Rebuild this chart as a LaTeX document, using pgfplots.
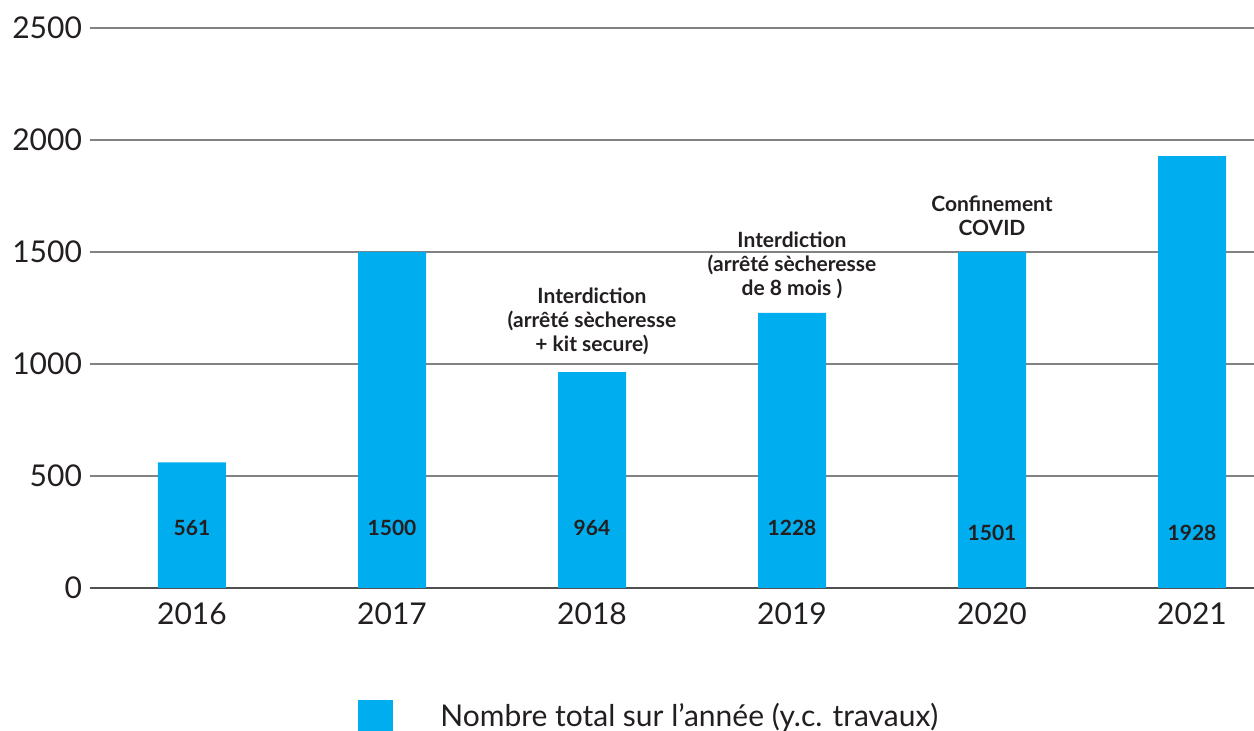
\documentclass[border=0pt]{standalone}
\usepackage{pgfplots}
\pgfplotsset{compat=1.18}
\usepackage{fontspec}
\setmainfont{Lato}
\definecolor{barblue}{RGB}{0,174,239}
\definecolor{gridgray}{RGB}{130,130,130}
\definecolor{axgray}{RGB}{80,80,80}
\definecolor{txt}{RGB}{35,31,32}
\begin{document}
\begin{tikzpicture}
\begin{axis}[
  scale only axis,
  width=582pt, height=280pt,
  xmin=-0.51, xmax=5.31,
  ymin=0, ymax=2500,
  ytick={0,500,1000,1500,2000,2500},
  xtick={0,1,2,3,4,5},
  xticklabels={2016,2017,2018,2019,2020,2021},
  axis x line*=bottom,
  axis y line*=left,
  y axis line style={draw=none},
  x axis line style={axgray, line width=1pt, -},
  ymajorgrids,
  grid style={gridgray, line width=1pt},
  major tick length=0pt,
  /pgf/number format/1000 sep={},
  /pgf/number format/assume math mode=true,
  tick label style={font=\fontsize{15}{17}\selectfont, text=txt},
  yticklabel style={xshift=-0.5pt},
  xticklabel style={yshift=-4pt},
  legend style={at={(0.2302,-0.2)}, anchor=north west, draw=none,
    inner sep=0pt, font=\fontsize{15}{17}\selectfont, text=txt,
    nodes={inner sep=0pt}},
  legend image code/.code={
    \fill[barblue] (0pt,-7.75pt) rectangle (17.5pt,7.75pt);
    \path (41pt,0pt);
  },
]
\addplot[ybar, bar width=34pt, fill=barblue, draw=none] coordinates {
  (0,561) (1,1500) (2,964) (3,1228) (4,1501) (5,1928)
};
\addlegendentry{Nombre total sur l’année (y.c. travaux)}
\begin{scope}[every node/.style={font=\bfseries\fontsize{10.5}{12}\selectfont, text=txt, align=center}]
\node at (axis cs:0,268) {561};
\node at (axis cs:1,268) {1500};
\node at (axis cs:2,268) {964};
\node at (axis cs:3,268) {1228};
\node at (axis cs:4,246) {1501};
\node at (axis cs:5,246) {1928};
\node at (axis cs:2,1192) {Interdiction\\(arrêté sècheresse\\+ kit secure)};
\node at (axis cs:3,1442) {Interdiction\\(arrêté sècheresse\\de 8 mois )};
\node at (axis cs:4,1661) {Confinement\\COVID};
\end{scope}
\end{axis}
\pgfresetboundingbox
\useasboundingbox (-45pt,-71.5pt) rectangle (582pt,294pt);
\end{tikzpicture}
\end{document}
